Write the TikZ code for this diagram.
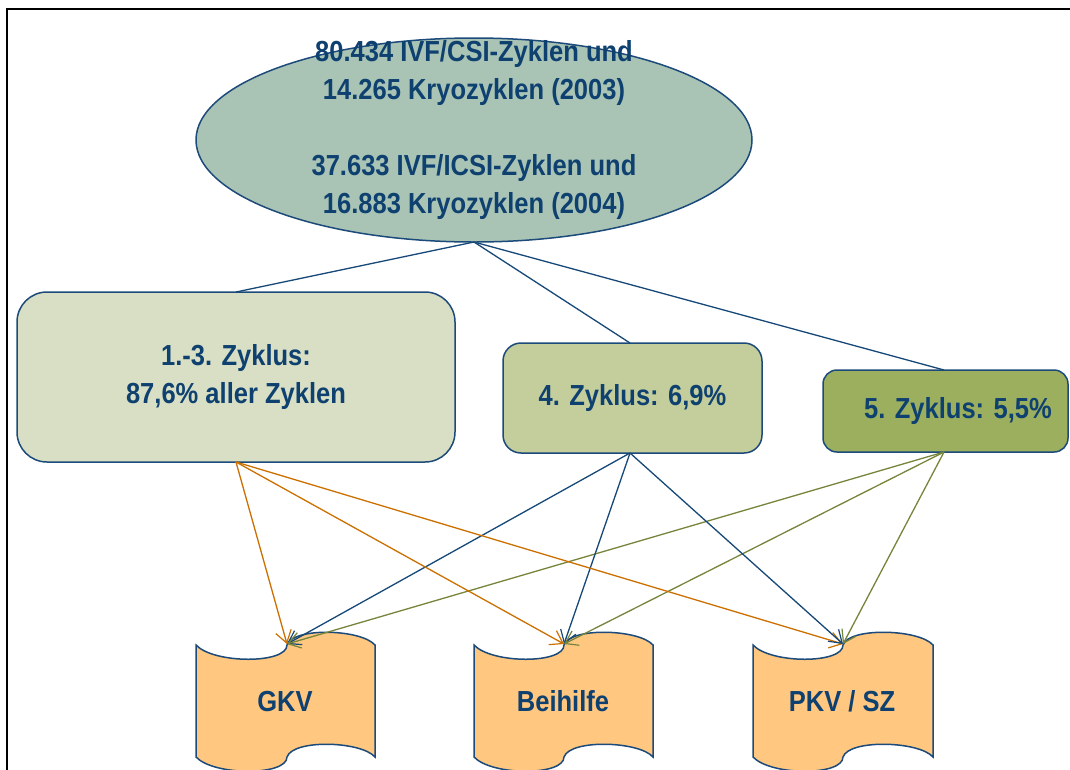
\documentclass[tikz,border=0pt]{standalone}
\usepackage{fontspec}
\setmainfont{Liberation Sans}[FakeStretch=0.88]
\usetikzlibrary{arrows.meta,shapes.geometric}
\definecolor{txt}{RGB}{14,64,112}
\definecolor{edge}{RGB}{28,74,122}
\definecolor{ellfill}{RGB}{169,196,180}
\definecolor{boxA}{RGB}{217,223,196}
\definecolor{boxB}{RGB}{195,206,156}
\definecolor{boxC}{RGB}{155,175,95}
\definecolor{tapefill}{RGB}{255,199,128}
\definecolor{orangeline}{RGB}{204,112,0}
\definecolor{oliveline}{RGB}{118,133,60}
\definecolor{blueline}{RGB}{22,72,120}
\tikzset{
  lbl/.style={text=txt,font=\bfseries\fontsize{29}{38}\selectfont,align=center},
  boxstyle/.style={draw=edge,line width=1.5pt,outer sep=0pt,inner sep=0pt},
  tapestyle/.style={draw=edge,line width=1.5pt,fill=tapefill},
  conn/.style={blueline,line width=1.3pt},
  arr/.style={line width=1.3pt,-{Straight Barb[length=12pt,width=16pt,line width=1.2pt]}},
}
\newcommand\tapepath[3]{%
  \draw[tapestyle] (#1,645) .. controls (#1+18,664) and (#2,664) .. (#2,645)
    .. controls (#2+6,627) and (#3-14,629) .. (#3,645) -- (#3,757)
    .. controls (#3-14,741) and (#2+6,739) .. (#2,757)
    .. controls (#2,776) and (#1+18,776) .. (#1,757) -- cycle;}
\begin{document}
\begin{tikzpicture}[x=1pt,y=-1pt]
\useasboundingbox (0,0) rectangle (1070,769);
\clip (0,0) rectangle (1070,769);
\fill[white] (0,0) rectangle (1070,769);
% frame
\draw[line width=2pt,black] (7.3,772) -- (7.3,9) -- (1072,9);
% ellipse
\node[ellipse,boxstyle,fill=ellfill,minimum width=556pt,minimum height=204pt,
  label={[lbl,yshift=10pt]center:{80.434 IVF/CSI-Zyklen und\\14.265 Kryozyklen (2003)\\[38pt]37.633 IVF/ICSI-Zyklen und\\16.883 Kryozyklen (2004)}}]
  (ell) at (474,140) {};
% boxes
\node[boxstyle,lbl,fill=boxA,rounded corners=30pt,minimum width=438pt,minimum height=170pt]
  (b1) at (236,377) {1.-3. Zyklus:\\87,6\% aller Zyklen};
\node[boxstyle,lbl,fill=boxB,rounded corners=18pt,minimum width=259pt,minimum height=110pt]
  (b2) at (632.5,398) {4. Zyklus: 6,9\%};
\node[boxstyle,lbl,fill=boxC,rounded corners=14pt,minimum width=245pt,minimum height=82pt]
  (b3) at (945.5,411) {\hspace*{25pt}5. Zyklus: 5,5\%};
% tapes
\tapepath{196}{287}{375}
\tapepath{474}{564}{653}
\tapepath{753}{843}{933}
\node[lbl,anchor=base] (gkv) at (285,711) {GKV};
\node[lbl,anchor=base] (beih) at (563,711) {Beihilfe};
\node[lbl,anchor=base] (pkv) at (842,711) {PKV / SZ};
\coordinate (t1) at (287,644);
\coordinate (t2) at (564,644);
\coordinate (t3) at (843,644);
\coordinate (e1) at (236,462);
\coordinate (e2) at (630,453);
\coordinate (e3) at (944,452);
% connectors from ellipse
\draw[conn] (ell.south) -- (b1.north);
\draw[conn] (ell.south) -- ([xshift=-2.5pt]b2.north);
\draw[conn] (ell.south) -- ([xshift=-1.5pt]b3.north);
% arrows
\foreach \t in {t1,t2,t3}{
  \draw[arr,orangeline] (e1) -- (\t);
  \draw[arr,blueline] (e2) -- (\t);
  \draw[arr,oliveline] (e3) -- (\t);
}
\end{tikzpicture}
\end{document}
